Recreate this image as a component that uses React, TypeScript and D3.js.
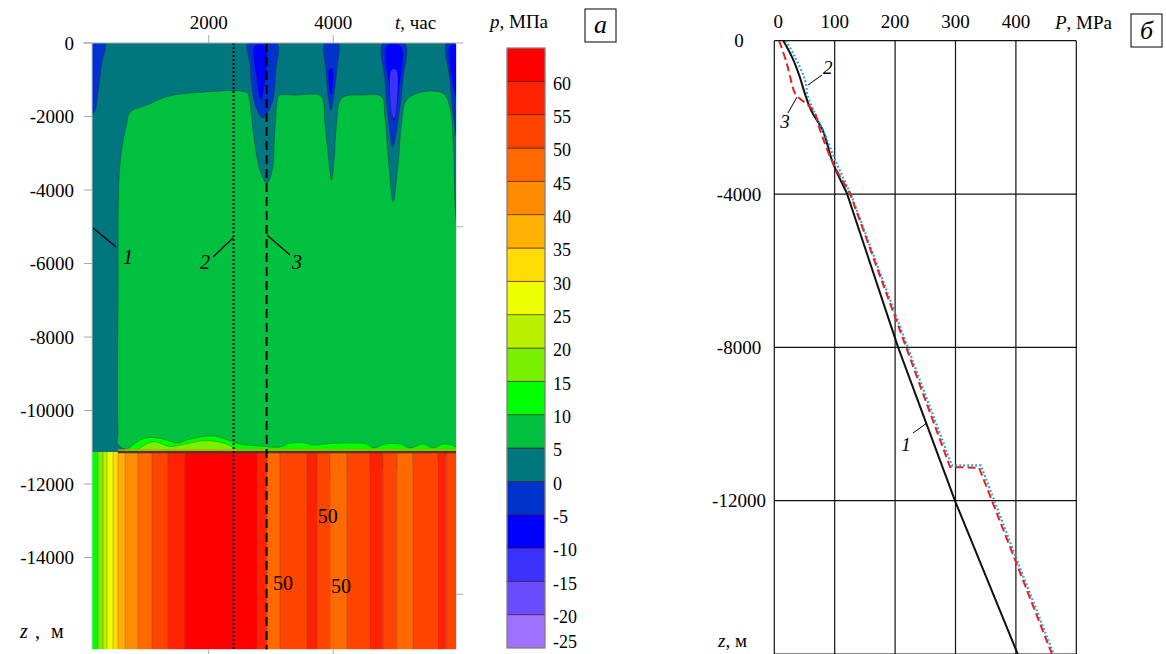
import React from "react";
import * as d3 from "d3";

// ---------- left panel: pressure field p(t, z) ----------
const pLevels = [-25, -20, -15, -10, -5, 0, 5, 10, 15, 20, 25, 30, 35, 40, 45, 50, 55, 60, 65];
const pColors = [
  "#a070ff", "#6a4cff", "#3c32ff", "#0000ff", "#0033cc", "#00777f", "#00c040", "#00ff00", "#78f000",
  "#b8f000", "#f0ff00", "#ffdc00", "#ffb000", "#ff8c00", "#ff6a00", "#ff4400", "#ff2200", "#ff0000",
];
const pLabels = [60, 55, 50, 45, 40, 35, 30, 25, 20, 15, 10, 5, 0, -5, -10, -15, -20, -25];

const tStart = 125;
const tEnd = 5975;
const zBase = -11130; // boundary of the deep high-pressure zone
const zBottom = -16500;

const tTicks = [2000, 4000];
const zTicksL = [0, -2000, -4000, -6000, -8000, -10000, -12000, -14000];
const zSideTicks = [-5000, -15000];

// outline of the 5..10 MPa zone
const greenZone = [
  [560, -10960], [544, -10600], [544, -7000], [576, -3270], [684, -2180], [737, -1880], [1005, -1690], [1326, -1460],
  [1807, -1350], [2610, -1350], [2650, -1500], [2711, -2370], [2823, -3460], [2931, -3810], [3011, -3540],
  [3064, -2370], [3117, -1460], [3145, -1415], [3413, -1415], [3674, -1390], [3814, -1460], [3867, -2180],
  [3947, -3460], [3974, -3730], [4011, -3270], [4055, -2180], [4135, -1500], [4477, -1415], [4777, -1460],
  [4830, -2000], [4883, -3090], [4963, -4320], [5043, -3270], [5098, -2180], [5178, -1550], [5445, -1325],
  [5766, -1370], [5873, -1730], [5926, -2640], [5960, -4500], [5990, -5200], [5990, -10960],
];
// -5..0 MPa zones
const blueZones = [
  [[110, 0], [335, 0], [283, -544], [228, -1279], [175, -1823], [110, -1959]],
  [[2631, 0], [3096, 0], [3080, -735], [3032, -1551], [2952, -1878], [2872, -2041], [2791, -1878], [2711, -1415], [2663, -599]],
  [[3867, 0], [4076, 0], [4060, -735], [4011, -1415], [3963, -1823], [3915, -1415], [3883, -735]],
  [[4798, 0], [5151, 0], [5119, -1007], [5055, -1959], [4958, -2830], [4878, -1959], [4830, -1007]],
  [[5825, 0], [5990, 0], [5990, -2639], [5937, -2095], [5873, -1007]],
];
// -10..-5 MPa zones
const deepBlueZones = [
  [[2743, -82], [2904, -82], [2904, -1007], [2839, -1551], [2775, -1007]],
  [[3940, -700], [3990, -700], [3990, -1250], [3965, -1420], [3940, -1250]],
  [[4862, -82], [5087, -82], [5055, -1279], [4974, -2095], [4910, -1279]],
  [[5880, -82], [5990, -82], [5990, -1500], [5930, -1200]],
];
// -15..-10 MPa zones
const violetZones = [
  [[4942, -735], [5006, -735], [5006, -1823], [4974, -2041], [4942, -1823]],
];
// 10..15 MPa rim above the deep zone
const rimOuter = [
  [545, -11130], [657, -11075], [737, -10993], [898, -10803], [1058, -10735], [1266, -10776], [1491, -10884],
  [1652, -10803], [1860, -10721], [2101, -10694], [2310, -10803], [2503, -10912], [2824, -10966], [3145, -10993],
  [3306, -10884], [3547, -10884], [3676, -10939], [3948, -10898], [4543, -10912], [4640, -11020], [4832, -10912],
  [5073, -10912], [5234, -11020], [5443, -10912], [5604, -11020], [5764, -10912], [5975, -10993], [5975, -11140],
  [545, -11140],
];
// 15..20 MPa rim
const rimInner = [
  [817, -11130], [977, -10930], [1138, -10850], [1379, -10980], [1652, -10900], [1943, -10820], [2263, -10900],
  [2503, -11130],
];
// vertical stripes of the deep zone
const stripeEdges = [
  125, 223, 303, 368, 464, 544, 657, 865, 1090, 1347, 1620, 2775, 2935, 3145, 3578, 3739, 3947, 4220, 4589,
  4798, 5023, 5280, 5681, 5825, 5975,
];
const stripeP = [12, 17, 22, 27, 32, 37, 42, 47, 52, 57, 62, 57, 47, 52, 57, 52, 47, 52, 57, 52, 47, 52, 57, 52];

const sectionT = [2400, 2930];
const contourLabels = [
  { t: 3913, z: -12870 },
  { t: 3193, z: -14690 },
  { t: 4124, z: -14780 },
];
const leadersL = [
  { name: "1", from: [142, -5034], to: [512, -5551], text: [705, -5830] },
  { name: "2", from: [2069, -5823], to: [2390, -5306], text: [1942, -5960] },
  { name: "3", from: [2936, -5224], to: [3306, -5769], text: [3418, -5960] },
];

// ---------- right panel: P(z) profiles ----------
const pTicksR = [0, 100, 200, 300, 400];
const pGridR = [0, 100, 200, 300, 400, 500];
const zTicksR = [0, -4000, -8000, -12000];
const zGridR = [0, -4000, -8000, -12000, -16000];

const z1 = [0, -450, -939, -1400, -1850, -2330, -3190, -3973, -8000, -12035, -16500];
const p1 = [15, 30, 42, 51, 62, 80, 97, 120, 205, 300, 416];
const z2 = [0, -417, -1025, -1461, -1886, -2330, -3190, -4078, -8852, -11080, -11080, -13600, -16500];
const p2 = [19.4, 34, 50.8, 55.8, 67, 80.6, 103, 128.6, 241, 294, 342, 403, 475];
const z3 = [0, -582, -1104, -1364, -1547, -1678, -1886, -2330, -3190, -3973, -8852, -11122, -11140, -13600, -16500];
const p3 = [8, 20.5, 28.8, 34, 45, 56, 67, 75.7, 97, 125, 238, 291, 339, 400, 472];
// index where each profile switches from smooth to straight segments
const smoothUntil = [7, 7, 9];

const leadersR = [
  { name: "2", from: [55.8, -1156], to: [79, -895], text: [88.6, -700] },
  { name: "3", from: [22.7, -1886], to: [37.6, -1469], text: [17.7, -2110] },
  { name: "1", from: [229.6, -10235], to: [252.8, -9974], text: [218, -10520] },
];

const serif = "'Liberation Serif', 'DejaVu Serif', serif";

export default function App() {
  const xL = d3.scaleLinear().domain([0, 6000]).range([84.2, 457.7]);
  const yL = d3.scaleLinear().domain([0, -16500]).range([43, 649.4]);
  const color = d3.scaleThreshold<number, string>().domain(pLevels.slice(1, -1)).range(pColors);
  const yCb = d3.scaleLinear().domain([-25, 65]).range([648, 48]);

  const xR = d3.scaleLinear().domain([0, 500]).range([774.3, 1076.3]);
  const yR = d3.scaleLinear().domain([0, -16000]).range([40.7, 654]);

  const shape = d3
    .line<number[]>()
    .x((d) => xL(d[0]))
    .y((d) => yL(d[1]))
    .curve(d3.curveCatmullRomClosed.alpha(0.5));
  const rimShape = d3
    .line<number[]>()
    .x((d) => xL(d[0]))
    .y((d) => yL(d[1]))
    .curve(d3.curveCatmullRom.alpha(0.5));

  // upper part of a profile is smooth, the deep part is made of straight pieces
  const curvePath = (zs: number[], ps: number[], k: number) => {
    const pts = zs.map((z, i) => [xR(ps[i]), yR(z)] as [number, number]);
    const smooth = d3.line().curve(d3.curveCatmullRom.alpha(0.5))(pts.slice(0, k + 1)) || "";
    const straight = d3.line()(pts.slice(k)) || "";
    return smooth + straight.replace(/^M[^L]*/, "");
  };

  const contourStroke = "rgba(20,40,30,0.45)";
  const x0 = xL(tStart);
  const x1 = xL(tEnd);
  const yTop = yL(0);
  const yBot = yL(zBottom);

  return (
    <svg
      width={1166}
      height={654}
      style={{ position: "fixed", left: 0, top: 0, background: "#fff" }}
      fontFamily={serif}
    >
      <defs>
        <clipPath id="fieldClip">
          <rect x={x0} y={yTop} width={x1 - x0} height={yBot - yTop} />
        </clipPath>
        <clipPath id="frameClip">
          <rect x={xR(0)} y={yR(0)} width={xR(500) - xR(0)} height={yR(-16000) - yR(0)} />
        </clipPath>
      </defs>

      {/* ---------------- left panel ---------------- */}
      <g clipPath="url(#fieldClip)">
        <rect x={x0} y={yTop} width={x1 - x0} height={yL(zBase) - yTop} fill={color(2)} />
        <path d={shape(greenZone) || ""} fill={color(7)} stroke={contourStroke} strokeWidth={0.8} />
        {blueZones.map((z, i) => (
          <path key={"b" + i} d={shape(z) || ""} fill={color(-2)} stroke={contourStroke} strokeWidth={0.7} />
        ))}
        {deepBlueZones.map((z, i) => (
          <path key={"db" + i} d={shape(z) || ""} fill={color(-7)} stroke="rgba(40,20,120,0.5)" strokeWidth={0.6} />
        ))}
        {violetZones.map((z, i) => (
          <path key={"v" + i} d={shape(z) || ""} fill={color(-12)} stroke="rgba(120,80,200,0.6)" strokeWidth={0.6} />
        ))}
        <path d={rimShape(rimOuter) + "Z"} fill={color(12)} stroke={contourStroke} strokeWidth={0.7} />
        <path d={rimShape(rimInner) + "Z"} fill={color(17)} stroke={contourStroke} strokeWidth={0.6} />
        {stripeP.map((p, i) => (
          <rect
            key={"s" + i}
            x={xL(stripeEdges[i])}
            y={yL(zBase)}
            width={xL(stripeEdges[i + 1]) - xL(stripeEdges[i])}
            height={yBot - yL(zBase)}
            fill={color(p)}
          />
        ))}
        {stripeEdges.slice(1, -1).map((t, i) => (
          <line
            key={"se" + i}
            x1={xL(t)}
            x2={xL(t)}
            y1={yL(zBase)}
            y2={yBot}
            stroke="rgba(110,30,0,0.35)"
            strokeWidth={0.8}
          />
        ))}
        <line x1={xL(544)} x2={x1} y1={yL(zBase) - 2} y2={yL(zBase) - 2} stroke="#c8a000" strokeWidth={1.5} />
        <line x1={xL(544)} x2={x1} y1={yL(zBase)} y2={yL(zBase)} stroke="#4a3a18" strokeWidth={2.2} />
      </g>

      {/* section lines 2 and 3 */}
      <line x1={xL(sectionT[0])} x2={xL(sectionT[0])} y1={yTop} y2={yBot} stroke="#000" strokeWidth={2} strokeDasharray="2,2" />
      <line x1={xL(sectionT[1])} x2={xL(sectionT[1])} y1={yTop} y2={yBot} stroke="#000" strokeWidth={2} strokeDasharray="9,5" />

      {contourLabels.map((c, i) => (
        <text key={"cl" + i} x={xL(c.t)} y={yL(c.z)} dy="0.35em" textAnchor="middle" fontSize={20}>
          50
        </text>
      ))}
      {leadersL.map((l) => (
        <g key={"ll" + l.name}>
          <line x1={xL(l.from[0])} y1={yL(l.from[1])} x2={xL(l.to[0])} y2={yL(l.to[1])} stroke="#000" strokeWidth={1.3} />
          <text x={xL(l.text[0])} y={yL(l.text[1])} dy="0.35em" textAnchor="middle" fontSize={20} fontStyle="italic">
            {l.name}
          </text>
        </g>
      ))}

      {/* axes of the left panel */}
      <line x1={83} x2={463} y1={yTop} y2={yTop} stroke="#aaa" strokeWidth={1.2} />
      <line x1={x0} x2={x0} y1={yTop} y2={yBot} stroke="#ccc" strokeWidth={1} />
      <line x1={x1 + 0.5} x2={x1 + 0.5} y1={yTop} y2={yBot} stroke="#ddd" strokeWidth={1} />
      {tTicks.map((t) => (
        <g key={"tt" + t}>
          <line x1={xL(t)} x2={xL(t)} y1={yTop - 8} y2={yTop} stroke="#aaa" />
          <line x1={xL(t)} x2={xL(t)} y1={yBot} y2={654} stroke="#aaa" />
          <text x={xL(t)} y={22} dy="0.35em" textAnchor="middle" fontSize={19}>
            {t}
          </text>
        </g>
      ))}
      {zTicksL.map((z) => (
        <g key={"zl" + z}>
          <line x1={84} x2={x0} y1={yL(z)} y2={yL(z)} stroke="#aaa" />
          <text x={74} y={yL(z)} dy="0.35em" textAnchor="end" fontSize={19}>
            {z}
          </text>
        </g>
      ))}
      {zSideTicks.map((z) => (
        <line key={"zs" + z} x1={x1} x2={463} y1={yL(z)} y2={yL(z)} stroke="#aaa" />
      ))}
      <text x={395} y={22} dy="0.35em" fontSize={19}>
        <tspan fontStyle="italic">t</tspan>, час
      </text>
      <text y={631} dy="0.35em" fontSize={20}>
        <tspan x={20} fontStyle="italic">z</tspan>
        <tspan x={35}>,</tspan>
        <tspan x={51}>м</tspan>
      </text>

      {/* colour bar */}
      <text x={490} y={21} dy="0.35em" fontSize={19}>
        <tspan fontStyle="italic">p</tspan>, МПа
      </text>
      <rect x={585} y={9} width={31} height={33} fill="#fff" stroke="#000" strokeWidth={1} />
      <text x={600.5} y={24} dy="0.35em" textAnchor="middle" fontSize={26} fontStyle="italic">
        а
      </text>
      {pLevels.slice(0, -1).map((lo, i) => (
        <rect
          key={"cb" + lo}
          x={507}
          y={yCb(pLevels[i + 1])}
          width={38}
          height={yCb(lo) - yCb(pLevels[i + 1])}
          fill={pColors[i]}
          stroke="rgba(60,20,20,0.7)"
          strokeWidth={0.8}
        />
      ))}
      <rect x={507} y={yCb(65)} width={38} height={yCb(-25) - yCb(65)} fill="none" stroke="#999" strokeWidth={1} />
      {pLabels.map((v) => (
        <text key={"cbl" + v} x={553} y={Math.min(yCb(v) + 2, 642)} dy="0.35em" fontSize={18}>
          {v}
        </text>
      ))}

      {/* ---------------- right panel ---------------- */}
      {pGridR.map((p) => (
        <line key={"gx" + p} x1={xR(p)} x2={xR(p)} y1={yR(0)} y2={yR(-16000)} stroke="#111" strokeWidth={1.2} />
      ))}
      {zGridR.map((z) => (
        <line key={"gy" + z} x1={xR(0)} x2={xR(500)} y1={yR(z)} y2={yR(z)} stroke="#111" strokeWidth={1.2} />
      ))}
      {pTicksR.map((p) => (
        <text key={"px" + p} x={xR(p) + (p === 0 ? 4 : 0)} y={21} dy="0.35em" textAnchor="middle" fontSize={19}>
          {p}
        </text>
      ))}
      {zTicksR.map((z) => (
        <text key={"zr" + z} x={739} y={yR(z)} dy="0.35em" textAnchor="middle" fontSize={19}>
          {z}
        </text>
      ))}
      <text x={1055} y={22} dy="0.35em" fontSize={19}>
        <tspan fontStyle="italic">P</tspan>, MPa
      </text>
      <rect x={1131} y={14} width={31} height={33} fill="#fff" stroke="#000" strokeWidth={1} />
      <text x={1146.5} y={30} dy="0.35em" textAnchor="middle" fontSize={26} fontStyle="italic">
        б
      </text>
      <text y={640} dy="0.35em" fontSize={19}>
        <tspan x={718} fontStyle="italic">z</tspan>
        <tspan>, м</tspan>
      </text>

      <g clipPath="url(#frameClip)" fill="none">
        <path d={curvePath(z1, p1, smoothUntil[0])} stroke="#111" strokeWidth={2} />
        <path d={curvePath(z2, p2, smoothUntil[1])} stroke="#2a9ee0" strokeWidth={2.2} strokeDasharray="1.8,2.2" />
        <path d={curvePath(z3, p3, smoothUntil[2])} stroke="#e02424" strokeWidth={2} strokeDasharray="8,4" />
      </g>
      {leadersR.map((l) => (
        <g key={"lr" + l.name}>
          <line x1={xR(l.from[0])} y1={yR(l.from[1])} x2={xR(l.to[0])} y2={yR(l.to[1])} stroke="#000" strokeWidth={1} />
          <text x={xR(l.text[0])} y={yR(l.text[1])} dy="0.35em" textAnchor="middle" fontSize={19} fontStyle="italic">
            {l.name}
          </text>
        </g>
      ))}
    </svg>
  );
}
